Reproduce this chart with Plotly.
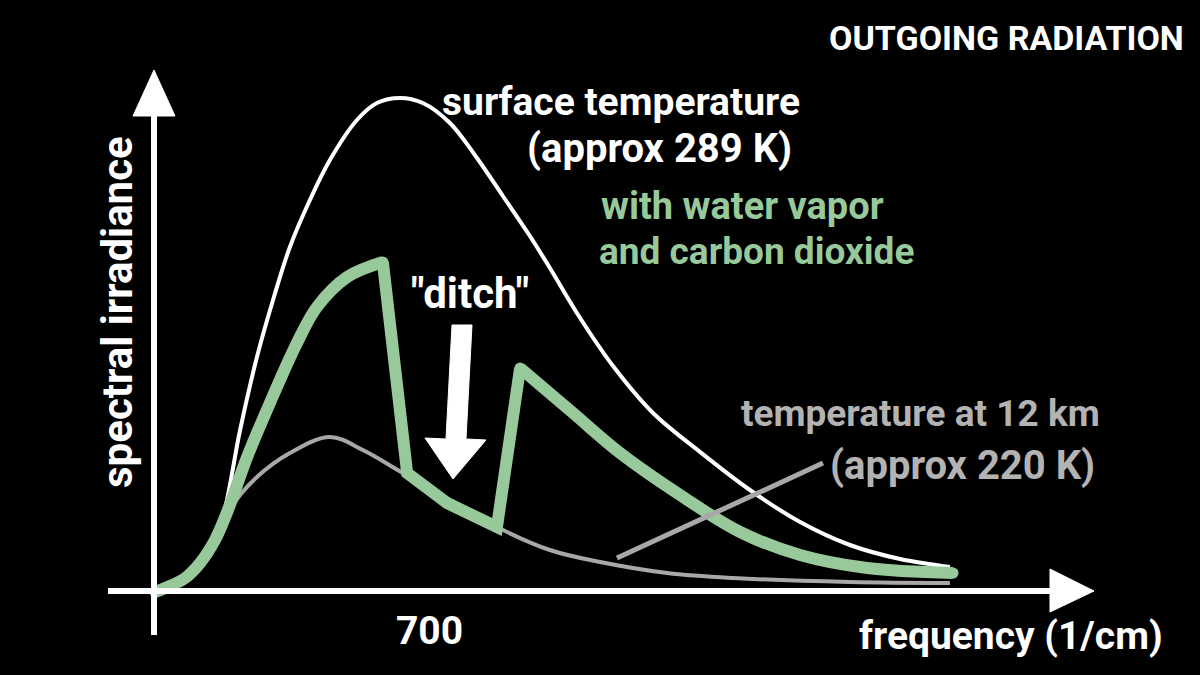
import plotly.graph_objects as go

# ---- data (wavenumber in 1/cm, spectral irradiance in arbitrary units) ----
surface_x = [0, 64, 128, 171, 217, 260, 301, 344, 395, 446, 515, 566, 625, 683, 752, 821,
             887, 956, 1007, 1084, 1168, 1270, 1390, 1517, 1645, 1772, 1900, 2027]
surface_y = [0, 1.8, 6.4, 14.4, 32.4, 47, 58.4, 69, 78.4, 86.4, 94.4, 97.8, 98.8, 97.8, 93.8, 86.8,
             79.2, 71.2, 64.8, 54.8, 45.2, 35.8, 28, 20.4, 14, 9.4, 6.6, 5]

upper_x = [0, 64, 128, 171, 199, 260, 344, 446, 530, 632, 752, 872, 1007, 1135, 1306, 1474, 1772, 2027]
upper_y = [0, 1.4, 6, 12, 17.4, 23, 27.8, 31, 28.4, 23.8, 18.4, 13, 8.4, 6, 3.8, 2.8, 2, 1.8]

ghg_x = [0, 26, 77, 115, 153, 186, 235, 293, 362, 413, 490, 581,
         643, 745, 872, 931,
         1066, 1186, 1339, 1492, 1645, 1816, 2035]
ghg_y = [0, 0.8, 2.8, 5.8, 10.4, 16.4, 27, 37.8, 49.8, 57, 63, 66,
         23.8, 17.8, 13, 44.8,
         35.8, 27.8, 19.4, 12, 7.4, 4.8, 3.8]

tick_value = 700
tick_label = "700"

# ---- page geometry helpers (pixel -> paper) ----
W, H = 1200, 675
def px(x):
    return x / W
def py(y):
    return 1 - y / H

X0 = -155 * 2.55           # data x at left edge of page
X1 = (1200 - 155) * 2.55   # data x at right edge
Y0 = -(675 - 592) * 0.2    # data y at bottom edge
Y1 = 592 * 0.2             # data y at top edge

WHITE = "#ffffff"
GREEN = "#97c99b"
GRAY = "#a8a8a8"
GRAY_TXT = "#b3b3b3"
FONT = "Roboto, sans-serif"

fig = go.Figure()

# surface (289 K) curve
fig.add_trace(go.Scatter(x=surface_x, y=surface_y, mode="lines",
                         line=dict(color=WHITE, width=4, shape="spline", smoothing=1.0),
                         hoverinfo="skip"))
# 12 km (220 K) curve
fig.add_trace(go.Scatter(x=upper_x, y=upper_y, mode="lines",
                         line=dict(color=GRAY, width=4, shape="spline", smoothing=1.0),
                         hoverinfo="skip"))
# green curve: rising part (smooth), ditch (straight), tail (smooth)
i_peak, i_jump = 11, 15
fig.add_trace(go.Scatter(x=ghg_x[:i_peak + 1], y=ghg_y[:i_peak + 1], mode="lines",
                         line=dict(color=GREEN, width=12, shape="spline", smoothing=1.0),
                         hoverinfo="skip"))
fig.add_trace(go.Scatter(x=ghg_x[i_peak:i_jump + 1], y=ghg_y[i_peak:i_jump + 1], mode="lines+markers",
                         line=dict(color=GREEN, width=12, shape="linear"),
                         marker=dict(color=GREEN, size=11),
                         hoverinfo="skip"))
fig.add_trace(go.Scatter(x=ghg_x[i_jump:], y=ghg_y[i_jump:], mode="lines",
                         line=dict(color=GREEN, width=12, shape="spline", smoothing=1.0),
                         hoverinfo="skip"))
fig.add_trace(go.Scatter(x=[ghg_x[0], ghg_x[-1]], y=[ghg_y[0], ghg_y[-1]], mode="markers",
                         marker=dict(color=GREEN, size=11), hoverinfo="skip"))

shapes = []
# axes lines
shapes.append(dict(type="line", xref="paper", yref="paper",
                   x0=px(108), y0=py(591), x1=px(1055), y1=py(591),
                   line=dict(color=WHITE, width=6)))
shapes.append(dict(type="line", xref="paper", yref="paper",
                   x0=px(154), y0=py(635), x1=px(154), y1=py(110),
                   line=dict(color=WHITE, width=6)))
# arrowheads
def tri(pts):
    d = "M " + " L ".join(f"{px(a):.5f},{py(b):.5f}" for a, b in pts) + " Z"
    return dict(type="path", xref="paper", yref="paper", path=d,
                fillcolor=WHITE, line=dict(color=WHITE, width=1))
shapes.append(tri([(1050, 569), (1094, 591), (1050, 612)]))
shapes.append(tri([(133, 116), (154, 70), (175, 116)]))
# "ditch" arrow
shapes.append(tri([(452, 325), (472, 325), (466, 439), (486, 440), (453, 479),
                   (425, 438), (446, 439)]))
# pointer line to the 220 K curve
shapes.append(dict(type="line", xref="paper", yref="paper",
                   x0=px(617), y0=py(558), x1=px(823), y1=py(463),
                   line=dict(color=GRAY, width=5)))

def txt(text, x, y, size, color=WHITE, xanchor="center", textangle=0):
    return dict(text=text, x=px(x), y=py(y), xref="paper", yref="paper",
                xanchor=xanchor, yanchor="middle", showarrow=False, textangle=textangle,
                font=dict(family=FONT, size=size, color=color, weight="bold"))

annotations = [
    txt("OUTGOING RADIATION", 1186, 38, 34, xanchor="right"),
    txt("surface temperature", 802, 102, 39, xanchor="right"),
    txt("(approx 289 K)", 794, 149, 40, xanchor="right"),
    txt("with water vapor", 599, 206, 38, color=GREEN, xanchor="left"),
    txt("and carbon dioxide", 597, 251, 37, color=GREEN, xanchor="left"),
    txt("\"ditch\"", 470, 294, 42),
    txt("temperature at 12 km", 1102, 414, 37, color=GRAY_TXT, xanchor="right"),
    txt("(approx 220 K)", 1097, 465, 40, color=GRAY_TXT, xanchor="right"),
    txt("frequency (1/cm)", 1011, 636, 39),
    txt("spectral irradiance", 117, 312, 42, textangle=-90),
]

fig.update_layout(
    width=W, height=H,
    margin=dict(l=0, r=0, t=0, b=0),
    paper_bgcolor="black", plot_bgcolor="black",
    showlegend=False,
    shapes=shapes,
    annotations=annotations,
    xaxis=dict(range=[X0, X1], visible=True, showgrid=False, zeroline=False, showline=False,
               tickvals=[tick_value], ticktext=[tick_label], ticks="",
               ticklabelposition="inside", ticklabelstandoff=20,
               tickfont=dict(family=FONT, size=39, color=WHITE, weight="bold"),
               fixedrange=True),
    yaxis=dict(range=[Y0, Y1], visible=False, showgrid=False, zeroline=False, fixedrange=True),
)

fig.write_html("out.html", config={"displayModeBar": False},
               post_script="document.body.style.margin='0';document.body.style.background='black';")
